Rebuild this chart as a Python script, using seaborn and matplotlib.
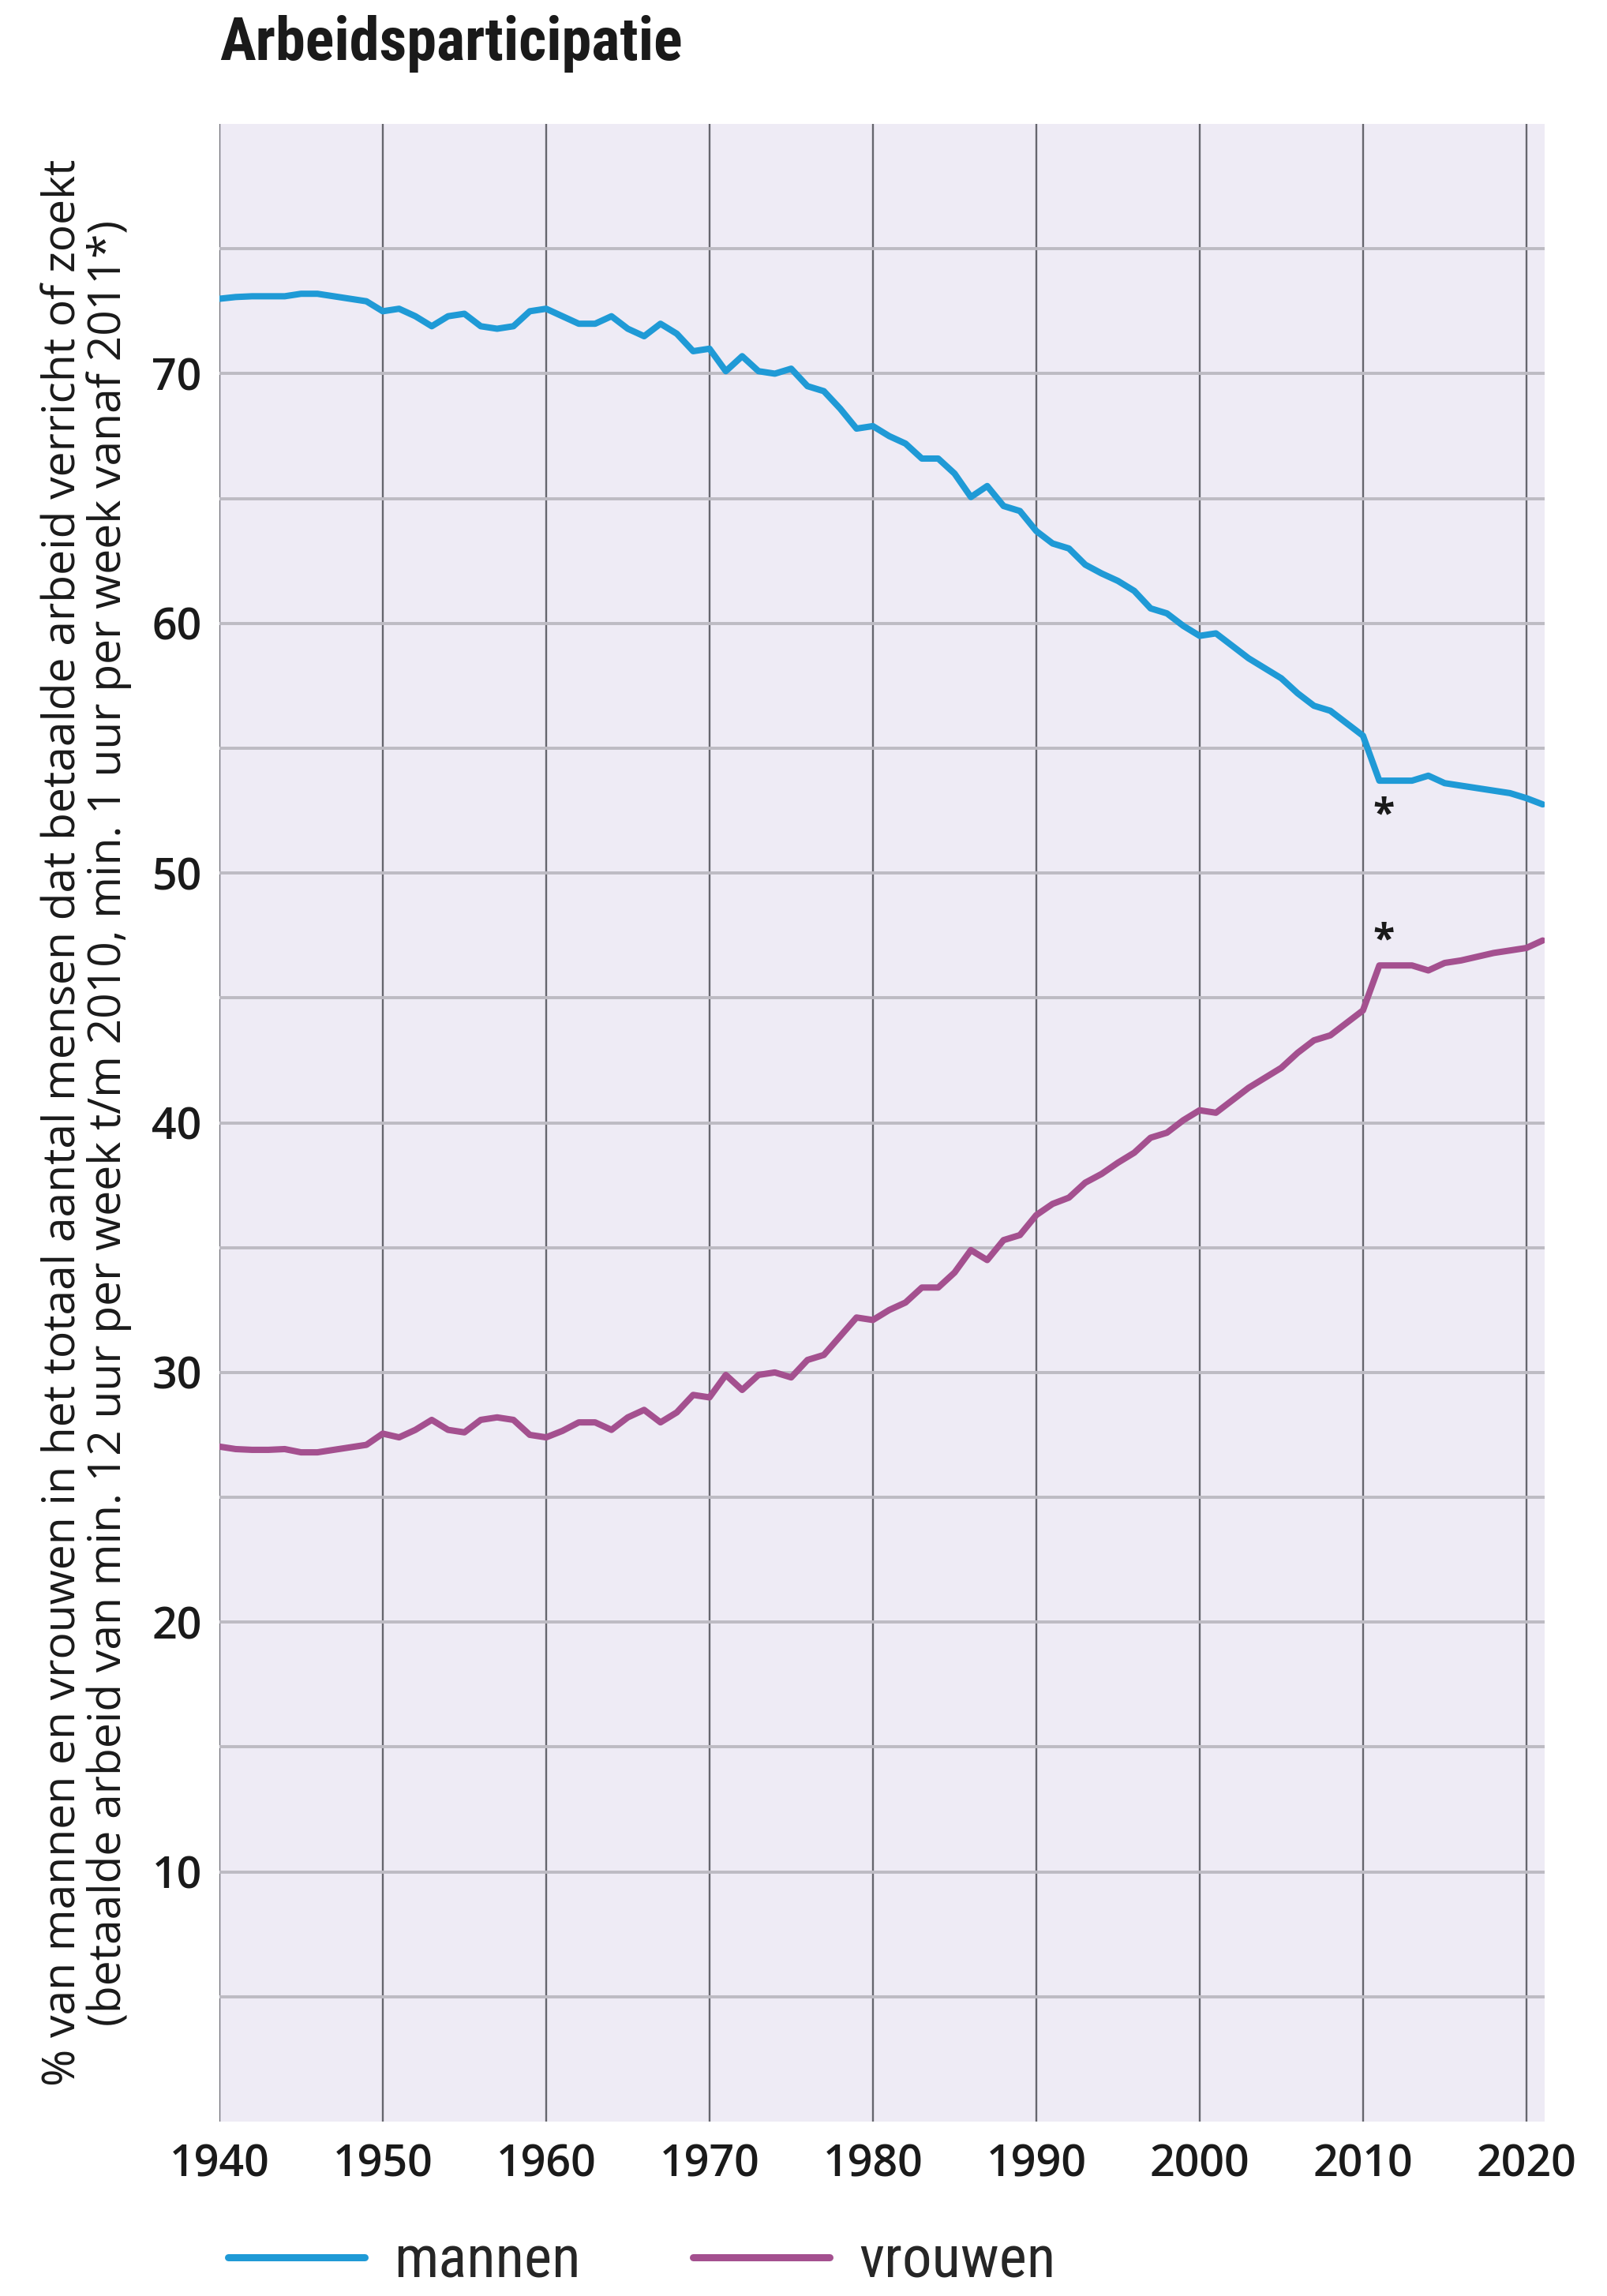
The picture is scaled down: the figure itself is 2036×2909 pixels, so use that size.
import matplotlib
matplotlib.use("Agg")
import matplotlib.pyplot as plt
import seaborn as sns
import pandas as pd
import numpy as np

years = list(range(1940, 2022))

mannen = [73.0, 73.07, 73.1, 73.1, 73.1, 73.2, 73.2, 73.1, 73.0, 72.9,
          72.5, 72.6, 72.3, 71.9, 72.3, 72.4, 71.9, 71.8, 71.9, 72.5,
          72.6, 72.3, 72.0, 72.0, 72.3, 71.8, 71.5, 72.0, 71.6, 70.9,
          71.0, 70.1, 70.7, 70.1, 70.0, 70.2, 69.5, 69.3, 68.6, 67.8,
          67.9, 67.5, 67.2, 66.6, 66.6, 66.0, 65.06, 65.5, 64.7, 64.5,
          63.7, 63.2, 63.0, 62.35, 62.0, 61.7, 61.3, 60.6, 60.4, 59.9,
          59.5, 59.6, 59.1, 58.6, 58.2, 57.8, 57.2, 56.7, 56.5, 56.0,
          55.5, 53.7, 53.7, 53.7, 53.9, 53.6, 53.5, 53.4, 53.3, 53.2,
          53.0, 52.75]

vrouwen = [27.03, 26.93, 26.9, 26.9, 26.93, 26.8, 26.8, 26.9, 27.0, 27.1,
           27.55, 27.4, 27.7, 28.1, 27.7, 27.6, 28.1, 28.2, 28.1, 27.5,
           27.4, 27.66, 28.0, 28.0, 27.7, 28.2, 28.5, 28.0, 28.4, 29.1,
           29.0, 29.9, 29.3, 29.9, 30.0, 29.8, 30.5, 30.7, 31.45, 32.2,
           32.1, 32.5, 32.8, 33.4, 33.4, 34.0, 34.9, 34.5, 35.3, 35.5,
           36.3, 36.75, 37.0, 37.6, 37.95, 38.4, 38.8, 39.4, 39.6, 40.1,
           40.5, 40.4, 40.9, 41.4, 41.8, 42.2, 42.8, 43.3, 43.5, 44.0,
           44.5, 46.3, 46.3, 46.3, 46.1, 46.4, 46.5, 46.65, 46.8, 46.9,
           47.0, 47.3]

series_names = ["mannen", "vrouwen"]
colors = {"mannen": "#1F9AD6", "vrouwen": "#A4508F"}

x_ticks = list(range(1940, 2021, 10))
y_labels_ticks = list(range(10, 71, 10))
y_grid = list(range(5, 80, 5))

title = "Arbeidsparticipatie"
ylabel = ("% van mannen en vrouwen in het totaal aantal mensen dat betaalde arbeid verricht of zoekt\n"
          "(betaalde arbeid van min. 12 uur per week t/m 2010, min. 1 uur per week vanaf 2011*)")

star_year = 2011

df = pd.DataFrame({
    "jaar": years * 2,
    "waarde": mannen + vrouwen,
    "groep": ["mannen"] * len(years) + ["vrouwen"] * len(years),
})

sns.set_theme(style="white")
plt.rcParams["font.family"] = ["Open Sans", "DejaVu Sans"]
narrow = ["Roboto Condensed", "Liberation Sans Narrow", "Lato", "DejaVu Sans"]

fig = plt.figure(figsize=(20.36, 29.09), dpi=100)
ax = fig.add_axes([0.1365, 0.076, 0.8245, 0.870])
ax.set_facecolor("#EEEBF5")

sns.lineplot(data=df, x="jaar", y="waarde", hue="groep", palette=colors,
             hue_order=series_names, linewidth=5.8, ax=ax, legend=True, zorder=5)

ax.set_xlim(1940, 2021.1)
ax.set_ylim(0, 80)

ax.set_yticks(y_grid)
ax.set_yticklabels([str(v) if v in y_labels_ticks else "" for v in y_grid])
ax.set_xticks(x_ticks)
ax.set_xticklabels([str(v) for v in x_ticks])
ax.yaxis.grid(True, color="#BDBBC3", linewidth=2.8, zorder=1)
ax.xaxis.grid(True, color="#66666E", linewidth=1.7, zorder=1)
ax.set_axisbelow(True)
for s in ax.spines.values():
    s.set_visible(False)
ax.tick_params(axis="both", length=0, labelsize=40, colors="#1a1a1a")
for lab in ax.get_xticklabels() + ax.get_yticklabels():
    lab.set_fontweight("semibold")
ax.tick_params(axis="x", pad=20)
ax.tick_params(axis="y", pad=16)

ax.set_xlabel("")
ax.set_ylabel(ylabel, fontsize=41, color="#1a1a1a", labelpad=18, linespacing=1.0)

i = years.index(star_year)
ax.annotate("*", xy=(star_year, mannen[i]), xytext=(4, -32), textcoords="offset points",
            ha="center", va="center", fontsize=36, fontweight="bold", color="#1a1a1a")
ax.annotate("*", xy=(star_year, vrouwen[i]), xytext=(4, 22), textcoords="offset points",
            ha="center", va="center", fontsize=36, fontweight="bold", color="#1a1a1a")

fig.text(0.1365, 0.981, title, fontsize=55, fontweight="bold",
         family=narrow, ha="left", va="center", color="#1a1a1a")

sns.move_legend(ax, "center left", bbox_to_anchor=(0.109, 0.015),
                bbox_transform=fig.transFigure, ncol=2, frameon=False, title=None,
                fontsize=54, handlelength=2.3, columnspacing=1.9, handletextpad=0.5)
leg = ax.get_legend()
for t in leg.get_texts():
    t.set_family(narrow)
    t.set_fontweight("normal")
for h in leg.legend_handles:
    h.set_linewidth(6.5)

fig.savefig("out.png", dpi=100, facecolor="white")
